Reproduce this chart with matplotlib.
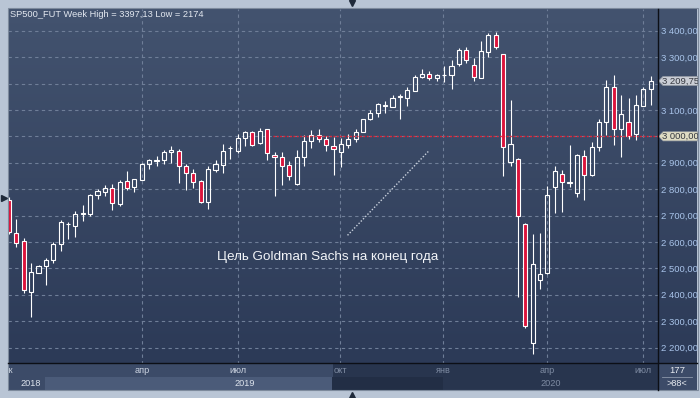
import matplotlib
matplotlib.use('Agg')
import matplotlib.pyplot as plt
import numpy as np
from matplotlib.patches import Rectangle, Polygon
from matplotlib.lines import Line2D
from matplotlib.colors import LinearSegmentedColormap
import matplotlib.transforms as mtrans
import matplotlib.ticker as mticker

plt.rcParams['font.family'] = ['Liberation Sans', 'DejaVu Sans']

# ---------------- data (weekly candles, SP500 futures) ----------------
opens = [2758, 2635, 2605, 2410, 2483, 2510, 2530, 2593, 2666, 2662,
         2706, 2705, 2776, 2789, 2806, 2745, 2829, 2808, 2836, 2897,
         2908, 2912, 2941, 2946, 2887, 2861, 2832, 2751, 2871, 2893,
         2955, 2944, 2992, 3015, 2975, 3026, 2931, 2920, 2890, 2820,
         2923, 2982, 3005, 2988, 2964, 2940, 2969, 2988, 3017, 3064,
         3090, 3115, 3113, 3149, 3147, 3172, 3225, 3238, 3222, 3232,
         3232, 3274, 3327, 3270, 3222, 3320, 3384, 3310, 2901, 2916,
         2669, 2218, 2457, 2482, 2808, 2859, 2825, 2787, 2927, 2855,
         2958, 3055, 3185, 3026, 3056, 3009, 3115, 3178]
highs = [2770, 2686, 2616, 2521, 2512, 2539, 2600, 2682, 2675, 2716,
         2738, 2780, 2802, 2815, 2821, 2835, 2868, 2840, 2900, 2916,
         2925, 2947, 2963, 2952, 2897, 2875, 2836, 2887, 2912, 2970,
         2964, 3007, 3021, 3020, 3032, 3028, 2939, 2941, 2907, 2947,
         3004, 3023, 3027, 3000, 2998, 2992, 3007, 3026, 3066, 3099,
         3128, 3133, 3156, 3162, 3185, 3232, 3255, 3248, 3238, 3266,
         3289, 3335, 3337, 3298, 3361, 3391, 3397, 3313, 3137, 2918,
         2672, 2631, 2635, 2811, 2887, 2874, 2966, 2934, 2947, 2979,
         3064, 3213, 3232, 3156, 3145, 3156, 3188, 3228]
lows = [2630, 2581, 2406, 2315, 2481, 2438, 2520, 2565, 2611, 2618,
        2679, 2697, 2763, 2773, 2720, 2736, 2796, 2789, 2834, 2876,
        2887, 2897, 2899, 2823, 2796, 2803, 2748, 2726, 2865, 2861,
        2916, 2935, 2964, 2964, 2970, 2912, 2773, 2817, 2834, 2815,
        2888, 2956, 2979, 2945, 2855, 2882, 2954, 2979, 3015, 3062,
        3074, 3089, 3110, 3065, 3115, 3170, 3222, 3213, 3209, 3204,
        3179, 3267, 3279, 3209, 3220, 3301, 3329, 2850, 2888, 2391,
        2273, 2174, 2423, 2480, 2710, 2713, 2808, 2770, 2759, 2850,
        2945, 3004, 2966, 2922, 2990, 2986, 3114, 3118]
closes = [2636, 2597, 2419, 2487, 2510, 2530, 2593, 2677, 2668, 2705,
          2708, 2777, 2794, 2806, 2749, 2827, 2806, 2839, 2897, 2912,
          2910, 2939, 2947, 2887, 2860, 2827, 2751, 2878, 2894, 2946,
          2957, 2992, 3015, 2969, 3021, 2935, 2923, 2888, 2850, 2923,
          2984, 3005, 2989, 2969, 2951, 2970, 2988, 3018, 3064, 3090,
          3121, 3117, 3144, 3151, 3174, 3223, 3238, 3222, 3232, 3234,
          3266, 3327, 3291, 3225, 3323, 3384, 3337, 2961, 2970, 2698,
          2281, 2518, 2480, 2779, 2868, 2827, 2827, 2931, 2855, 2958,
          3056, 3186, 3026, 3083, 3003, 3117, 3178, 3209.75]

month_labels = ['дек', 'апр', 'июл', 'окт', 'янв', 'апр', 'июл']
month_pos = [-0.4, 18.05, 31.0, 44.9, 58.9, 73.0, 86.0]
year_labels = ['2018', '2019', '2020']
year_pos = [3.0, 32.0, 73.5]
price_ticks = [2200, 2300, 2400, 2500, 2600, 2700, 2800, 2900, 3000,
               3100, 3200, 3300, 3400]
target_level = 3000
target_start = 35.8
last_price = 3209.75
title_text = 'SP500_FUT Week High = 3397,13 Low = 2174'
note_text = 'Цель Goldman Sachs на конец года'
note_line_x = [45.9, 57.0]
note_line_y = [2625, 2947]
note_pos = (28.2, 2542)
bars_total = '177'
bars_visible = '>88<'

# ---------------- styling ----------------
W, H = 700, 398
frame_col = '#b9c5d5'
bg_top = '#43536f'
bg_bot = '#2c3a57'
red = '#dc143c'
grid_col = '#6f7e98'
label_col = '#a9c4ea'
XL = (-0.14, 87.93)
YL = (2139.4, 3483.5)

fig = plt.figure(figsize=(W / 100, H / 100), dpi=100, facecolor=frame_col)

def fx(px):
    return px / W

def fy(py):
    return 1 - py / H

grad_cmap = LinearSegmentedColormap.from_list('bg', [bg_bot, bg_top])
grad = np.linspace(0, 1, 256).reshape(-1, 1)

# right price panel background
rp = fig.add_axes([fx(657), fy(363.5), fx(40), (363.5 - 8.7) / H])
rp.imshow(grad, cmap=grad_cmap, aspect='auto', origin='lower', extent=(0, 1, 0, 1))
rp.set_axis_off()

# main chart
ax = fig.add_axes([fx(8), fy(363.5), fx(649.5), (363.5 - 8.7) / H])
ax.set_xlim(*XL)
ax.set_ylim(*YL)
ax.imshow(grad, cmap=grad_cmap, aspect='auto', origin='lower',
          extent=(XL[0], XL[1], YL[0], YL[1]), zorder=0)
for s in ax.spines.values():
    s.set_visible(False)

# grid
for v in price_ticks:
    ax.axhline(v, color=grid_col, lw=0.8, ls=(0, (3, 3)), zorder=1)
for m in month_pos:
    ax.axvline(m, color=grid_col, lw=0.8, ls=(0, (3, 3)), zorder=1)

# candles
bw = 0.56
for i, (o, h, l, c) in enumerate(zip(opens, highs, lows, closes)):
    top, bot = max(o, c), min(o, c)
    ax.vlines(i, top, h, color='white', lw=0.8, zorder=3)
    ax.vlines(i, l, bot, color='white', lw=0.8, zorder=3)
    fc = red if c < o else 'none'
    ax.add_patch(Rectangle((i - bw / 2, bot), bw, max(top - bot, 0.5),
                           facecolor=fc, edgecolor='white', lw=0.8, zorder=4))

# target line
ax.hlines(target_level, target_start, XL[1], color='#ee1c2e', lw=1.0,
          ls=(0, (1.2, 1.2)), zorder=5)

# annotation
ax.plot(note_line_x, note_line_y, color='#c9d1dd', lw=1.0, ls=(0, (1, 1.3)), zorder=5)
ax.text(note_pos[0], note_pos[1], note_text, color='#f2f4f8', fontsize=9.7,
        ha='left', va='center', zorder=6)

# right axis labels (the 3200 label is hidden under the last-price tag)
def fmt_price(v, p):
    if abs(v - 3200) < 1:
        return ''
    return f'{v:,.2f}'.replace(',', ' ').replace('.', ',')

ax.yaxis.tick_right()
ax.set_yticks(price_ticks)
ax.yaxis.set_major_formatter(mticker.FuncFormatter(fmt_price))
ax.tick_params(axis='y', length=0, pad=2.2, labelsize=6.8, labelcolor=label_col)
ax.set_xticks([])

# price tags
bt = mtrans.blended_transform_factory(ax.transAxes, ax.transData)
x0, x1, x2 = 1.0015, 1.0085, 1.062
hh = 4.6 / 0.2636
for val, fcol, txt in [(last_price, '#c9cdd5', '3 209,75'),
                       (target_level, '#dfdcc3', '3 000,00')]:
    poly = Polygon([(x0, val), (x1, val - hh), (x2, val - hh), (x2, val + hh), (x1, val + hh)],
                   closed=True, transform=bt, facecolor=fcol, edgecolor='#8d949e',
                   lw=0.5, clip_on=False, zorder=10)
    ax.add_patch(poly)
    ax.text(1.0065, val, txt, transform=bt, ha='left', va='center', fontsize=6.8,
            color='#353840', clip_on=False, zorder=11)

# bottom time band
band = fig.add_axes([fx(8), fy(390), fx(649.5), 26.5 / H])
band.set_xlim(*XL)
band.set_ylim(0, 26.5)
band.set_axis_off()
band.add_patch(Rectangle((XL[0], 13), 43.96 - XL[0], 13.5, fc='#3c4b68', ec='none'))
band.add_patch(Rectangle((43.96, 13), XL[1] - 43.96, 13.5, fc='#28354e', ec='none'))
band.add_patch(Rectangle((XL[0], 0), 4.88 - XL[0], 13, fc='#3c4b68', ec='none'))
band.add_patch(Rectangle((4.88, 0), 43.82 - 4.88, 13, fc='#4b5b79', ec='none'))
band.add_patch(Rectangle((43.82, 0), 58.9 - 43.82, 13, fc='#222e45', ec='none'))
band.add_patch(Rectangle((58.9, 0), XL[1] - 58.9, 13, fc='#28354e', ec='none'))
for lab, pos in zip(month_labels, month_pos):
    col = '#cdd5e2' if pos < 43.9 else '#7e8ba2'
    band.text(pos, 19.5, lab, ha='center', va='center', fontsize=6.6, color=col,
              clip_on=True)
for lab, pos in zip(year_labels, year_pos):
    col = '#7e8ba2' if pos > 44 else '#dde3ec'
    band.text(pos, 6.5, lab, ha='center', va='center', fontsize=6.6, color=col)

# corner box
cb = fig.add_axes([fx(657.5), fy(390), fx(39.5), 26.5 / H])
cb.set_xlim(0, 1)
cb.set_ylim(0, 1)
cb.set_facecolor('#3c4b68')
for s in cb.spines.values():
    s.set_visible(False)
cb.set_xticks([])
cb.set_yticks([])
cb.text(0.5, 0.72, bars_total, ha='center', va='center', fontsize=6.8, color='#e6eaf0')
cb.plot([0.12, 0.88], [0.48, 0.48], color='#8b97aa', lw=0.6)
cb.text(0.5, 0.26, bars_visible, ha='center', va='center', fontsize=6.6, color='#e6eaf0')

# separators and frame
fig.add_artist(Line2D([fx(8), fx(697)], [fy(363.3), fy(363.3)], color='#0c0f16', lw=1.0))
fig.add_artist(Line2D([fx(657.5), fx(657.5)], [fy(8.7), fy(390)], color='#0c0f16', lw=1.0))
fig.add_artist(Rectangle((fx(7.5), fy(390.3)), fx(690), (390.3 - 8.3) / H, fill=False,
                         ec='#7d8a9c', lw=0.8))

# title
fig.text(fx(10), fy(14.6), title_text, ha='left', va='center', fontsize=6.7, color='#e3e8f0')

# scroll triangles
fig.add_artist(Line2D([fx(352)], [fy(3)], marker='v', ms=5, color='#1f2a3a', lw=0))
fig.add_artist(Line2D([fx(352)], [fy(394.5)], marker='^', ms=5, color='#1f2a3a', lw=0))
fig.add_artist(Line2D([fx(3.5)], [fy(198)], marker='>', ms=5, color='#1f2a3a', lw=0))

fig.savefig('out.png', dpi=100, facecolor=frame_col)
